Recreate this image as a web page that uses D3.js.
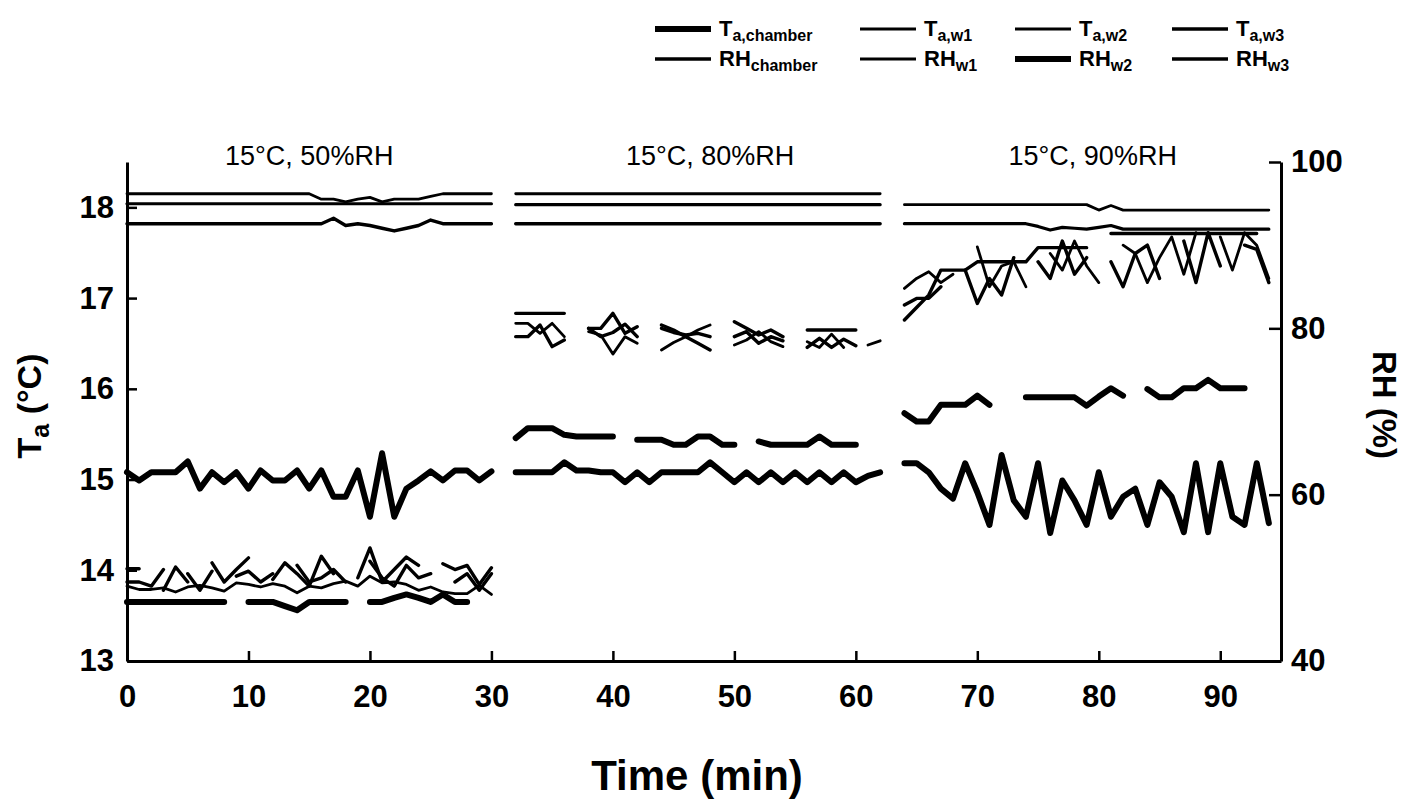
<!DOCTYPE html>
<html><head><meta charset="utf-8">
<script src="https://cdn.jsdelivr.net/npm/d3@7"></script>
<style>
body{margin:0;background:#fff}
svg{display:block}
text{font-family:"Liberation Sans",Arial,Helvetica,sans-serif;fill:#000}
</style>
</head><body><svg id="chart" width="1410" height="800"></svg>
<script>
// ---------------- data ----------------
const minutes1 = [0,1,2,3,4,5,6,7,8,9,10,11,12,13,14,15,16,17,18,19,20,21,22,23,24,25,26,27,28,29,30];
const minutes2 = [32,33,34,35,36,37,38,39,40,41,42,43,44,45,46,47,48,49,50,51,52,53,54,55,56,57,58,59,60,61,62];
const minutes3 = [64,65,66,67,68,69,70,71,72,73,74,75,76,77,78,79,80,81,82,83,84,85,86,87,88,89,90,91,92,93,94];

const panelLabels = ["15°C, 50%RH", "15°C, 80%RH", "15°C, 90%RH"];
const panelLabelMinutes = [15, 48, 79.5];

const xTicks = [0,10,20,30,40,50,60,70,80,90];
const tTicks = [13,14,15,16,17,18];
const rhTicks = [40,60,80,100];

// air temperature (°C)
const taChamber1 = [15.08,14.99,15.08,15.08,15.08,15.20,14.90,15.08,14.97,15.08,14.90,15.10,14.99,14.99,15.10,14.90,15.10,14.81,14.81,15.10,14.59,15.29,14.59,14.90,14.99,15.09,14.99,15.10,15.10,14.99,15.09];
const taChamber2 = [15.08,15.08,15.08,15.08,15.19,15.10,15.10,15.08,15.08,14.97,15.08,14.97,15.08,15.08,15.08,15.08,15.19,15.08,14.97,15.08,14.97,15.08,14.97,15.08,14.97,15.08,14.97,15.08,14.97,15.04,15.08];
const taChamber3 = [15.18,15.18,15.08,14.90,14.79,15.18,14.86,14.50,15.27,14.77,14.59,15.18,14.41,14.99,14.77,14.50,15.08,14.59,14.81,14.90,14.50,14.97,14.81,14.42,15.18,14.42,15.18,14.59,14.50,15.18,14.52];

const taW1_1 = [18.15,18.15,18.15,18.15,18.15,18.15,18.15,18.15,18.15,18.15,18.15,18.15,18.15,18.15,18.15,18.15,18.09,18.09,18.06,18.09,18.11,18.06,18.09,18.09,18.09,18.12,18.15,18.15,18.15,18.15,18.15];
const taW1_2 = [18.15,18.15,18.15,18.15,18.15,18.15,18.15,18.15,18.15,18.15,18.15,18.15,18.15,18.15,18.15,18.15,18.15,18.15,18.15,18.15,18.15,18.15,18.15,18.15,18.15,18.15,18.15,18.15,18.15,18.15,18.15];
const taW1_3 = [18.03,18.03,18.03,18.03,18.03,18.03,18.03,18.03,18.03,18.03,18.03,18.03,18.03,18.03,18.03,18.03,17.97,18.02,17.97,17.97,17.97,17.97,17.97,17.97,17.97,17.97,17.97,17.97,17.97,17.97,17.97];

const taW2_1 = [18.04,18.04,18.04,18.04,18.04,18.04,18.04,18.04,18.04,18.04,18.04,18.04,18.04,18.04,18.04,18.04,18.04,18.04,18.04,18.04,18.04,18.04,18.04,18.04,18.04,18.04,18.04,18.04,18.04,18.04,18.04];
const taW2_2 = [18.03,18.03,18.03,18.03,18.03,18.03,18.03,18.03,18.03,18.03,18.03,18.03,18.03,18.03,18.03,18.03,18.03,18.03,18.03,18.03,18.03,18.03,18.03,18.03,18.03,18.03,18.03,18.03,18.03,18.03,18.03];
const taW2_3 = [17.82,17.82,17.82,17.82,17.82,17.82,17.82,17.82,17.82,17.82,17.82,17.79,17.75,17.78,17.77,17.76,17.78,17.80,17.76,17.76,17.76,17.76,17.76,17.76,17.76,17.76,17.76,17.76,17.76,17.76,17.76];

const taW3_1 = [17.82,17.82,17.82,17.82,17.82,17.82,17.82,17.82,17.82,17.82,17.82,17.82,17.82,17.82,17.82,17.82,17.82,17.88,17.80,17.82,17.80,17.77,17.74,17.77,17.80,17.86,17.82,17.82,17.82,17.82,17.82];
const taW3_2 = [17.82,17.82,17.82,17.82,17.82,17.82,17.82,17.82,17.82,17.82,17.82,17.82,17.82,17.82,17.82,17.82,17.82,17.82,17.82,17.82,17.82,17.82,17.82,17.82,17.82,17.82,17.82,17.82,17.82,17.82,17.82];
const taW3_3 = [null,null,null,null,null,null,null,null,null,null,null,null,null,null,null,null,null,null,null,null,null,null,null,null,null,null,null,null,null,null,null];

// relative humidity (%)
const rhChamber1 = [51.1,51.1,null,48.5,51.3,49.5,null,51.8,49.5,51.0,52.4,null,49.8,51.8,50.5,49.0,52.6,50.5,null,50.0,53.6,49.5,51.0,52.5,51.5,null,51.7,51.0,51.5,49.2,51.2];
const rhChamber2 = [81.8,81.8,81.8,81.8,81.8,null,80.0,80.0,81.8,79.4,80.2,null,80.4,79.8,79.0,78.2,77.4,null,80.8,80.0,79.2,79.8,79.0,null,79.8,79.8,79.8,79.8,79.8,null,null];
const rhChamber3 = [81.0,82.5,84.0,87.0,87.0,87.0,88.0,88.0,88.0,88.0,88.0,89.7,89.7,89.7,89.7,89.7,null,91.4,91.4,91.4,91.4,91.4,91.4,91.4,91.4,91.4,91.4,91.4,91.4,91.4];

const rhW1_1 = [49.0,48.6,48.6,48.8,48.3,48.9,49.1,48.8,48.4,49.4,49.2,48.9,49.3,49.0,48.2,49.0,48.8,49.3,49.6,49.0,50.2,49.4,49.5,49.2,48.5,48.9,48.3,48.1,48.1,49.1,48.0];
const rhW1_2 = [80.6,80.6,79.4,80.6,79.0,null,79.6,79.2,76.9,79.0,78.2,null,77.4,78.3,79.0,79.8,80.4,null,78.0,78.6,79.6,78.4,77.8,null,78.4,77.7,79.3,77.7,null,78.0,78.5];
const rhW1_3 = [84.8,86.0,86.8,85.5,86.5,null,89.8,85.0,87.5,88.0,85.0,null,89.0,87.0,90.5,87.5,85.5,null,90.0,89.0,85.5,88.5,91.0,86.5,91.5,null,91.0,87.0,91.5,90.0,86.0];

const rhW2_1 = [47.1,47.1,47.1,47.1,47.1,47.1,47.1,47.1,47.1,null,47.1,47.1,47.1,46.6,46.1,47.1,47.1,47.1,47.1,null,47.1,47.1,47.6,48.0,47.6,47.1,48.0,47.1,47.1,null,null];
const rhW2_2 = [66.8,68.0,68.0,68.0,67.2,67.0,67.0,67.0,67.0,null,66.6,66.6,66.6,66.0,66.0,67.0,67.0,66.0,66.0,null,66.4,66.0,66.0,66.0,66.0,67.0,66.0,66.0,66.0,null,null];
const rhW2_3 = [69.8,68.8,68.8,70.8,70.8,70.8,71.9,70.8,null,null,71.7,71.7,71.7,71.7,71.7,70.7,71.8,72.8,71.9,null,72.7,71.7,71.7,72.8,72.8,73.8,72.8,72.8,72.8,null,null];

const rhW3_1 = [49.5,49.5,49.0,51.0,null,50.5,48.5,50.8,null,50.2,50.8,49.5,50.5,null,51.5,49.5,50.0,51.0,49.5,null,52.0,50.0,49.0,51.5,50.0,50.5,null,49.5,50.5,48.5,50.5];
const rhW3_2 = [79.0,79.0,80.4,77.8,78.6,null,80.0,79.0,79.5,80.5,79.0,null,80.0,79.5,79.2,79.4,79.0,null,79.0,79.6,78.2,79.0,78.5,null,77.7,78.8,77.7,78.7,77.9,null,null];
const rhW3_3 = [82.8,83.6,83.6,85.0,null,87.0,83.0,86.0,84.0,88.5,null,88.0,86.0,90.5,86.5,88.5,null,88.0,85.0,89.0,90.0,86.0,null,90.5,85.5,91.5,87.5,null,90.0,89.5,85.5];

// ---------------- chart ----------------
const svg = d3.select("#chart");
const x = d3.scaleLinear().domain([0, 95]).range([127, 1281]);
const yT = d3.scaleLinear().domain([13, 18.5]).range([661, 162]);
const yRH = d3.scaleLinear().domain([40, 100]).range([661, 162]);

const panels = [minutes1, minutes2, minutes3];

const series = [
  {key:"rhW1", axis:"RH", data:[rhW1_1, rhW1_2, rhW1_3]},
  {key:"rhW3", axis:"RH", data:[rhW3_1, rhW3_2, rhW3_3]},
  {key:"rhChamber", axis:"RH", data:[rhChamber1, rhChamber2, rhChamber3]},
  {key:"taW1", axis:"T", data:[taW1_1, taW1_2, taW1_3]},
  {key:"taW2", axis:"T", data:[taW2_1, taW2_2, taW2_3]},
  {key:"taW3", axis:"T", data:[taW3_1, taW3_2, taW3_3]},
  {key:"rhW2", axis:"RH", data:[rhW2_1, rhW2_2, rhW2_3]},
  {key:"taChamber", axis:"T", data:[taChamber1, taChamber2, taChamber3]}
];
const widths = {taChamber:6, taW1:2.8, taW2:3.2, taW3:3.4, rhChamber:3.4, rhW1:2.8, rhW2:6, rhW3:3.4};

const plot = svg.append("g");
series.forEach(s => {
  const yS = s.axis === "T" ? yT : yRH;
  const line = d3.line()
    .defined(d => d.v !== null && d.v !== undefined)
    .x(d => x(d.t)).y(d => yS(d.v));
  s.data.forEach((vals, pi) => {
    const pts = panels[pi].map((t, i) => ({t, v: vals[i]}));
    plot.append("path").datum(pts)
      .attr("d", line)
      .attr("fill", "none")
      .attr("stroke", "#000")
      .attr("stroke-width", widths[s.key])
      .attr("stroke-linejoin", "round")
      .attr("stroke-linecap", "round");
  });
});

// axes
function styleAxis(g) {
  g.selectAll("path.domain").attr("stroke", "#000").attr("stroke-width", 3);
  g.selectAll(".tick line").attr("stroke", "#000").attr("stroke-width", 2.5);
  g.selectAll(".tick text").attr("font-size", 31).attr("font-weight", "bold")
    .attr("font-family", "'Liberation Sans', Arial, sans-serif").attr("fill", "#000");
}
const fmt = d => String(d);
svg.append("g").attr("transform", "translate(0,661)")
  .call(d3.axisBottom(x).tickValues(xTicks).tickFormat(fmt).tickSize(-10).tickSizeOuter(0).tickPadding(24))
  .call(styleAxis);
svg.append("g").attr("transform", "translate(127,0)")
  .call(d3.axisLeft(yT).tickValues(tTicks).tickFormat(fmt).tickSize(-10).tickSizeOuter(0).tickPadding(13))
  .call(styleAxis);
svg.append("g").attr("transform", "translate(1281,0)")
  .call(d3.axisRight(yRH).tickValues(rhTicks).tickFormat(fmt).tickSize(-12).tickSizeOuter(0).tickPadding(10))
  .call(styleAxis);

// panel labels
panelLabels.forEach((lab, i) => {
  svg.append("text").attr("x", x(panelLabelMinutes[i])).attr("y", 165)
    .attr("text-anchor", "middle").attr("font-size", 27).text(lab);
});

// axis titles
svg.append("text").attr("x", 697).attr("y", 790).attr("text-anchor", "middle")
  .attr("font-size", 42).attr("font-weight", "bold").text("Time (min)");

const yl = svg.append("text").attr("transform", "translate(41,406) rotate(-90)")
  .attr("text-anchor", "middle").attr("font-size", 34).attr("font-weight", "bold");
yl.append("tspan").text("T");
yl.append("tspan").attr("font-size", 25).attr("dy", 8).text("a");
yl.append("tspan").attr("dy", -8).text(" (°C)");

svg.append("text").attr("transform", "translate(1373,405) rotate(90)")
  .attr("text-anchor", "middle").attr("font-size", 33).attr("font-weight", "bold").text("RH (%)");

// legend
const legendRows = [
  [{key:"taChamber", main:"T", sub:"a,chamber"}, {key:"taW1", main:"T", sub:"a,w1"}, {key:"taW2", main:"T", sub:"a,w2"}, {key:"taW3", main:"T", sub:"a,w3"}],
  [{key:"rhChamber", main:"RH", sub:"chamber"}, {key:"rhW1", main:"RH", sub:"w1"}, {key:"rhW2", main:"RH", sub:"w2"}, {key:"rhW3", main:"RH", sub:"w3"}]
];
const legendColX = [655, 860, 1015, 1172];
const legendRowY = [29, 59];
legendRows.forEach((row, r) => {
  row.forEach((e, c) => {
    const lx = legendColX[c], ly = legendRowY[r];
    svg.append("line").attr("x1", lx).attr("x2", lx + 56).attr("y1", ly).attr("y2", ly)
      .attr("stroke", "#000").attr("stroke-width", widths[e.key]);
    const t = svg.append("text").attr("x", lx + 64).attr("y", ly + 7)
      .attr("font-size", 22).attr("font-weight", "bold");
    t.append("tspan").text(e.main);
    t.append("tspan").attr("font-size", 16).attr("dy", 5).text(e.sub);
  });
});
</script>
</body></html>
